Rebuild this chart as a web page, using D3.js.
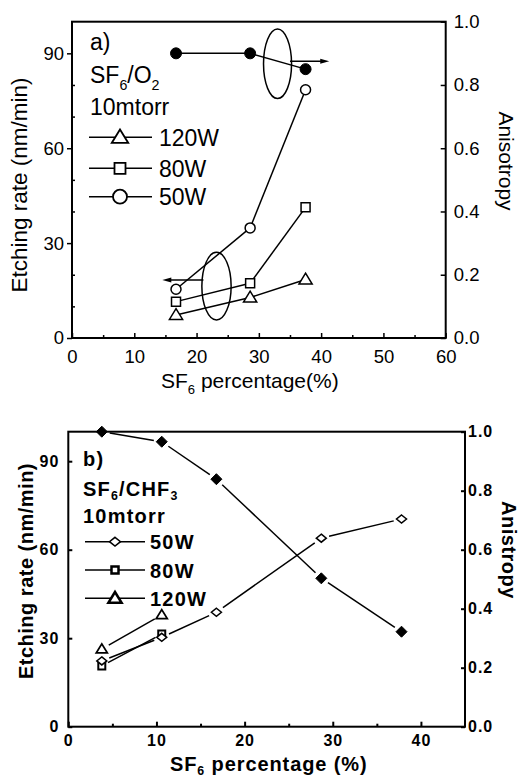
<!DOCTYPE html>
<html>
<head>
<meta charset="utf-8">
<script src="https://cdn.jsdelivr.net/npm/d3@7"></script>
<style>
  body { margin: 0; background: #fff; }
  svg { display: block; }
</style>
</head>
<body>
<div id="chart"></div>
<script>
// ---- panel a) SF6/O2, 10mtorr ----
var pctA = [16.7, 28.6, 37.5];
var rateA120 = [7.3, 12.8, 18.5];
var rateA80 = [11.5, 17.3, 41.3];
var rateA50 = [15.4, 34.8, 78.5];
var anisoA = [0.90, 0.90, 0.85];
var xTicksA = [0, 10, 20, 30, 40, 50, 60];
var yTicksA = [0, 30, 60, 90];
var y2TicksA = [0, 0.2, 0.4, 0.6, 0.8, 1.0];
// annotation ellipses / arrows, in data units (x = %, y = etching rate)
var ellipsesA = [{x: 33, y: 86.7, rx: 2.25, ry: 11}, {x: 23.2, y: 16.4, rx: 2.35, ry: 10.7}];
var arrowsA = [{x1: 35, x2: 41.3, y: 87.5}, {x1: 21.1, x2: 14.5, y: 18.3}];

// ---- panel b) SF6/CHF3, 10mtorr ----
var pctB = [3.8, 10.6, 16.8, 28.7, 37.8];
var rateB50 = [22.3, 30.3, 38.8, 63.9, 70.4];
var rateB80 = [20.6, 31.4];
var rateB120 = [26.3, 37.9];
var anisoB = [1.0, 0.966, 0.839, 0.503, 0.322];
var xTicksB = [0, 10, 20, 30, 40];
var yTicksB = [0, 30, 60, 90];
var y2TicksB = [0, 0.2, 0.4, 0.6, 0.8, 1.0];

var W = 520, H = 780;
var svg = d3.select("#chart").append("svg").attr("width", W).attr("height", H);

/* marker helper: shape relative to centre */
function marker(g, type, cx, cy, s, fill, sw) {
  var p;
  if (type == "circle") {
    g.append("circle").attr("cx", cx).attr("cy", cy).attr("r", s)
      .attr("fill", fill).attr("stroke", "#000").attr("stroke-width", sw);
    return;
  }
  if (type == "square") p = [[-s, -s], [s, -s], [s, s], [-s, s]];
  if (type == "triangle") p = [[0, -s * 1.05], [s * 1.1, s * 0.75], [-s * 1.1, s * 0.75]];
  if (type == "diamond") p = [[0, -s], [s, 0], [0, s], [-s, 0]];
  if (type == "hdiamond") p = [[0, -s * 0.8], [s, 0], [0, s * 0.8], [-s, 0]];
  g.append("path")
    .attr("d", "M" + p.map(function(d) { return (cx + d[0]) + "," + (cy + d[1]); }).join("L") + "Z")
    .attr("fill", fill).attr("stroke", "#000").attr("stroke-width", sw)
    .attr("stroke-linejoin", "miter");
}

/* polyline with gaps trimmed near markers */
function gapLine(g, pts, gap, sw) {
  for (var i = 0; i < pts.length - 1; i++) {
    var a = pts[i], b = pts[i + 1];
    var dx = b[0] - a[0], dy = b[1] - a[1], L = Math.sqrt(dx * dx + dy * dy);
    var ux = dx / L, uy = dy / L;
    g.append("line")
      .attr("x1", a[0] + ux * gap).attr("y1", a[1] + uy * gap)
      .attr("x2", b[0] - ux * gap).attr("y2", b[1] - uy * gap)
      .attr("stroke", "#000").attr("stroke-width", sw);
  }
}

function subText(g, x, y, parts, size, attrs, shift) {
  var sh = shift || 0.3;
  var t = g.append("text").attr("x", x).attr("y", y).attr("font-size", size);
  for (var k in attrs) t.attr(k, attrs[k]);
  parts.forEach(function(p) {
    if (p.sub) {
      t.append("tspan").attr("font-size", size * 0.62).attr("dy", size * sh).text(p.t);
    } else {
      t.append("tspan").attr("dy", p.after ? -size * sh : 0).text(p.t);
    }
  });
  return t;
}

/*==================== Panel a ====================*/
(function() {
  var fam = "'Liberation Sans', Arial, sans-serif";
  var x = d3.scaleLinear().domain([0, 60]).range([72, 445.7]);
  var y = d3.scaleLinear().domain([0, 100]).range([338, 21.7]);
  var y2 = d3.scaleLinear().domain([0, 1]).range([338, 21.7]);
  var g = svg.append("g").attr("font-family", fam);

  // frame
  g.append("rect").attr("x", x(0)).attr("y", y(100))
    .attr("width", x(60) - x(0)).attr("height", y(0) - y(100))
    .attr("fill", "none").attr("stroke", "#000").attr("stroke-width", 2);

  var ax = g.append("g").attr("transform", "translate(0," + y(0) + ")")
    .call(d3.axisBottom(x).tickValues(xTicksA).tickSize(-5).tickPadding(12).tickFormat(d3.format("d")));
  g.append("g").attr("transform", "translate(0," + y(0) + ")")
    .call(d3.axisBottom(x).tickValues(d3.range(5, 60, 10)).tickSize(-3).tickFormat(""));
  var ay = g.append("g").attr("transform", "translate(" + x(0) + ",0)")
    .call(d3.axisLeft(y).tickValues(yTicksA).tickSize(5).tickPadding(3).tickFormat(d3.format("d")));
  g.append("g").attr("transform", "translate(" + x(0) + ",0)")
    .call(d3.axisLeft(y).tickValues([10, 20, 40, 50, 70, 80]).tickSize(-3).tickFormat(""));
  var ay2 = g.append("g").attr("transform", "translate(" + x(60) + ",0)")
    .call(d3.axisRight(y2).tickValues(y2TicksA).tickSize(-5).tickPadding(8).tickFormat(d3.format(".1f")));
  [ax, ay, ay2].forEach(function(a) {
    a.selectAll("text").attr("font-size", 18.5).attr("font-family", fam).attr("fill", "#000");
  });
  g.selectAll(".domain").remove();
  g.selectAll(".tick line").attr("stroke", "#000").attr("stroke-width", 1.5);

  // series
  var series = [
    {v: rateA120, m: "triangle", s: 6},
    {v: rateA80, m: "square", s: 4.5},
    {v: rateA50, m: "circle", s: 5}
  ];
  series.forEach(function(se) {
    var pts = pctA.map(function(d, i) { return [x(d), y(se.v[i])]; });
    gapLine(g, pts, 0, 1.5);
  });
  var pa = pctA.map(function(d, i) { return [x(d), y2(anisoA[i])]; });
  gapLine(g, pa, 0, 1.5);
  series.forEach(function(se) {
    pctA.forEach(function(d, i) { marker(g, se.m, x(d), y(se.v[i]), se.s, "#fff", 1.5); });
  });
  pa.forEach(function(p) { marker(g, "circle", p[0], p[1], 5.5, "#000", 1); });

  // annotations
  ellipsesA.forEach(function(e) {
    g.append("ellipse").attr("cx", x(e.x)).attr("cy", y(e.y))
      .attr("rx", x(e.rx) - x(0)).attr("ry", y(0) - y(e.ry))
      .attr("fill", "none").attr("stroke", "#000").attr("stroke-width", 1.5);
  });
  arrowsA.forEach(function(a) {
    var x1 = x(a.x1), x2 = x(a.x2), yy = y(a.y), dir = x2 > x1 ? 1 : -1;
    g.append("line").attr("x1", x1).attr("x2", x2 - dir * 6).attr("y1", yy).attr("y2", yy)
      .attr("stroke", "#000").attr("stroke-width", 1.5);
    g.append("path").attr("d", "M" + x2 + "," + yy + "L" + (x2 - dir * 9) + "," + (yy - 2.5) +
      "L" + (x2 - dir * 9) + "," + (yy + 2.5) + "Z").attr("fill", "#000");
  });

  // legend / labels
  g.append("text").attr("x", 90).attr("y", 50).attr("font-size", 23).text("a)");
  subText(g, 90, 83, [{t: "SF"}, {t: "6", sub: true}, {t: "/O", after: true}, {t: "2", sub: true}], 23, {});
  g.append("text").attr("x", 90).attr("y", 115).attr("font-size", 23).text("10mtorr");
  var leg = [
    {t: "120W", m: "triangle", s: 7.5, y: 137.3},
    {t: "80W", m: "square", s: 5.5, y: 168.3},
    {t: "50W", m: "circle", s: 7, y: 196.7}
  ];
  leg.forEach(function(l) {
    g.append("line").attr("x1", 89).attr("x2", 152).attr("y1", l.y).attr("y2", l.y)
      .attr("stroke", "#000").attr("stroke-width", 1.5);
    marker(g, l.m, 120, l.y, l.s, "#fff", 1.8);
    g.append("text").attr("x", 159).attr("y", l.y + 8.5).attr("font-size", 23).text(l.t);
  });

  g.append("text").attr("transform", "translate(27,185) rotate(-90)")
    .attr("text-anchor", "middle").attr("font-size", 22.5).text("Etching rate (nm/min)");
  g.append("text").attr("transform", "translate(499,161) rotate(90)")
    .attr("text-anchor", "middle").attr("font-size", 21).text("Anisotropy");
  subText(g, 161, 388, [{t: "SF"}, {t: "6", sub: true}, {t: " percentage(%)", after: true}], 21, {});
})();

/*==================== Panel b ====================*/
(function() {
  var fam = "'Liberation Sans', Arial, sans-serif";
  var x = d3.scaleLinear().domain([0, 45]).range([68.3, 465]);
  var y = d3.scaleLinear().domain([0, 100]).range([726.7, 431.7]);
  var y2 = d3.scaleLinear().domain([0, 1]).range([726.7, 431.7]);
  var g = svg.append("g").attr("font-family", fam).attr("font-weight", "bold");

  g.append("rect").attr("x", x(0)).attr("y", y(100))
    .attr("width", x(45) - x(0)).attr("height", y(0) - y(100))
    .attr("fill", "none").attr("stroke", "#000").attr("stroke-width", 2);

  var ax = g.append("g").attr("transform", "translate(0," + y(0) + ")")
    .call(d3.axisBottom(x).tickValues(xTicksB).tickSize(-5).tickPadding(8).tickFormat(d3.format("d")));
  g.append("g").attr("transform", "translate(0," + y(0) + ")")
    .call(d3.axisBottom(x).tickValues([5, 15, 25, 35]).tickSize(-3).tickFormat(""));
  var ay = g.append("g").attr("transform", "translate(" + x(0) + ",0)")
    .call(d3.axisLeft(y).tickValues(yTicksB).tickSize(-4).tickPadding(9).tickFormat(d3.format("d")));
  var ay2 = g.append("g").attr("transform", "translate(" + x(45) + ",0)")
    .call(d3.axisRight(y2).tickValues(y2TicksB).tickSize(-4).tickPadding(3).tickFormat(d3.format(".1f")));
  [ax, ay, ay2].forEach(function(a) {
    a.selectAll("text").attr("font-size", 16).attr("font-family", fam)
      .attr("font-weight", "bold").attr("letter-spacing", 1).attr("fill", "#000");
  });
  g.selectAll(".domain").remove();
  g.selectAll(".tick line").attr("stroke", "#000").attr("stroke-width", 2);

  // anisotropy (filled diamonds)
  var pa = pctB.map(function(d, i) { return [x(d), y2(anisoB[i])]; });
  gapLine(g, pa, 8, 1.5);
  // etching rate series
  var s50 = pctB.map(function(d, i) { return [x(d), y(rateB50[i])]; });
  var s80 = rateB80.map(function(d, i) { return [x(pctB[i]), y(d)]; });
  var s120 = rateB120.map(function(d, i) { return [x(pctB[i]), y(d)]; });
  gapLine(g, s50, 8, 1.5);
  gapLine(g, s80, 7, 1.5);
  gapLine(g, s120, 8, 1.5);
  s80.forEach(function(p) { marker(g, "square", p[0], p[1], 3.5, "#fff", 2); });
  s50.forEach(function(p) { marker(g, "hdiamond", p[0], p[1], 5, "#fff", 1.5); });
  s120.forEach(function(p) { marker(g, "triangle", p[0], p[1], 5, "#fff", 1.8); });
  pa.forEach(function(p) { marker(g, "diamond", p[0], p[1], 5.5, "#000", 1); });

  // legend
  var lt = {"letter-spacing": 1.2};
  g.append("text").attr("x", 83).attr("y", 466).attr("font-size", 20).attr("letter-spacing", 1.2).text("b)");
  subText(g, 83, 496, [{t: "SF"}, {t: "6", sub: true}, {t: "/CHF", after: true}, {t: "3", sub: true}], 20, lt, 0.22);
  g.append("text").attr("x", 83).attr("y", 523).attr("font-size", 20).attr("letter-spacing", 1.2).text("10mtorr");
  var leg = [
    {t: "50W", m: "hdiamond", s: 5.5, y: 541.7, sw: 1.5},
    {t: "80W", m: "square", s: 3.5, y: 570, sw: 2.5},
    {t: "120W", m: "triangle", s: 6, y: 598.3, sw: 2.5}
  ];
  leg.forEach(function(l) {
    g.append("line").attr("x1", 85).attr("x2", 145).attr("y1", l.y).attr("y2", l.y)
      .attr("stroke", "#000").attr("stroke-width", 1.5);
    marker(g, l.m, 115, l.y, l.s, "#fff", l.sw);
    g.append("text").attr("x", 150).attr("y", l.y + 7.5).attr("font-size", 20)
      .attr("letter-spacing", 1.2).text(l.t);
  });

  g.append("text").attr("transform", "translate(33,571) rotate(-90)")
    .attr("text-anchor", "middle").attr("font-size", 20).attr("letter-spacing", 0.5)
    .text("Etching rate (nm/min)");
  g.append("text").attr("transform", "translate(502,550) rotate(90)")
    .attr("text-anchor", "middle").attr("font-size", 20).attr("letter-spacing", 0.5)
    .text("Anistropy");
  subText(g, 170, 771, [{t: "SF"}, {t: "6", sub: true}, {t: " percentage (%)", after: true}], 20, {"letter-spacing": 0.9}, 0.22);
})();
</script>
</body>
</html>
